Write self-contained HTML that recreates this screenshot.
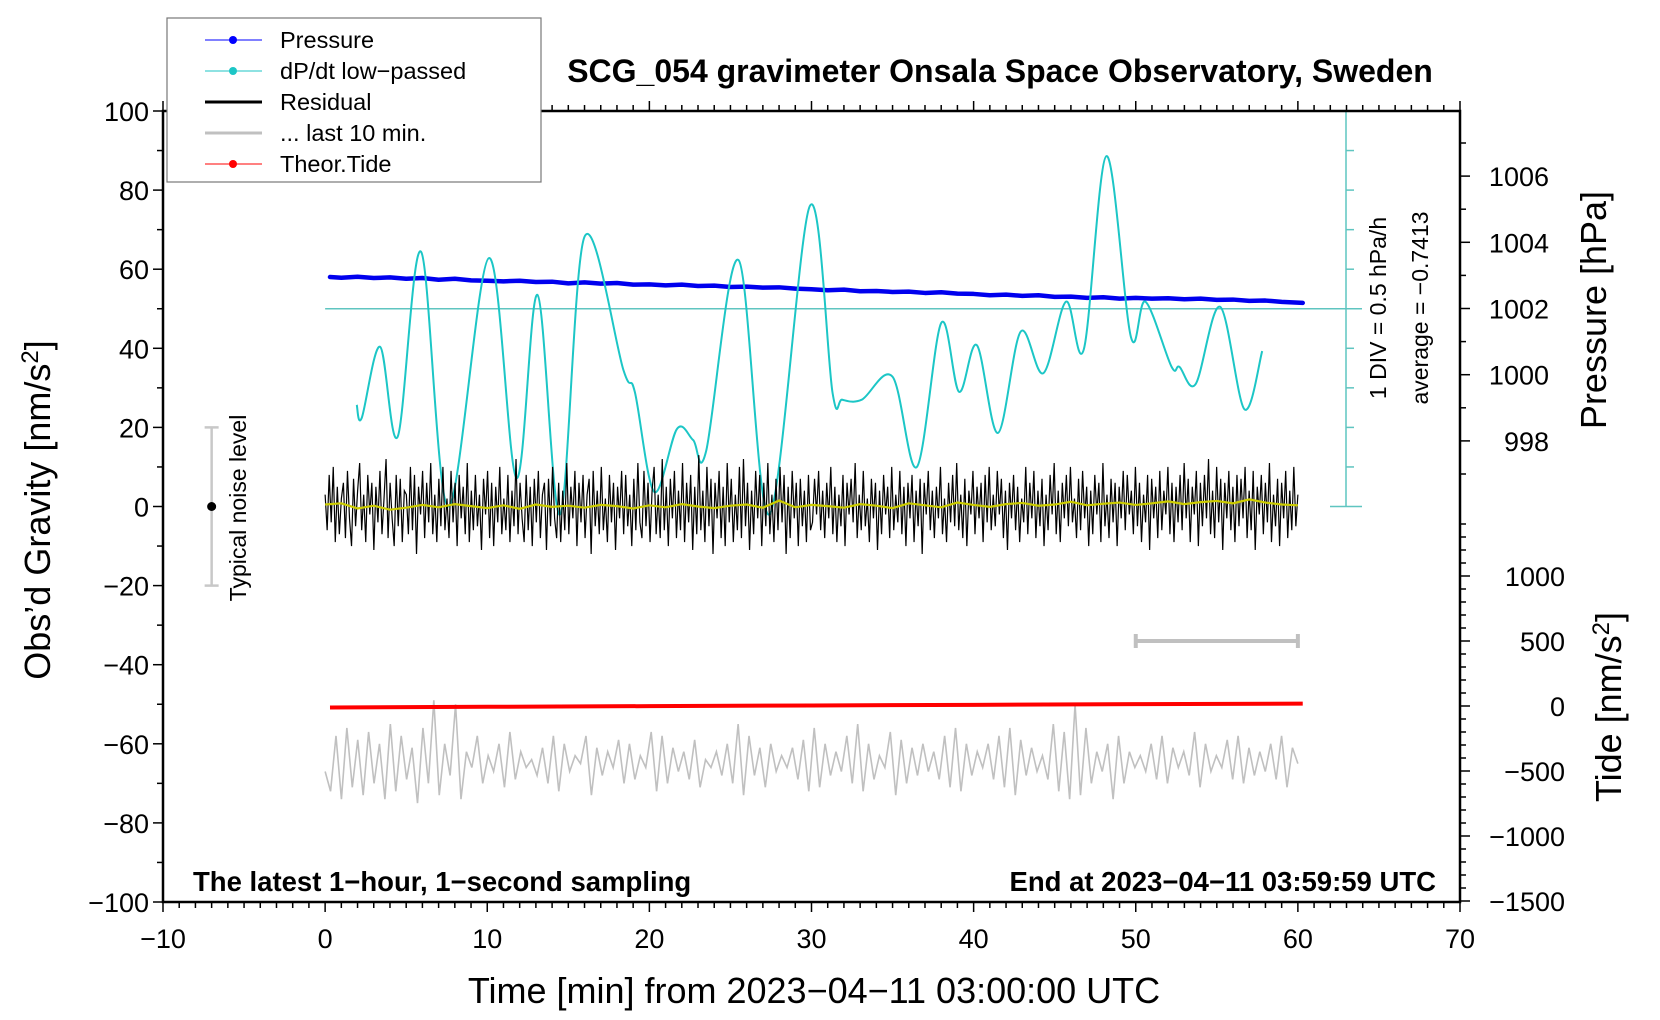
<!DOCTYPE html>
<html><head><meta charset="utf-8"><style>
body{margin:0;background:#fff}
svg{display:block;font-family:"Liberation Sans",Arial,sans-serif}
</style></head><body>
<svg id="chart" width="1660" height="1020" viewBox="0 0 1660 1020">
<g id="layer"></g>
</svg>
<script>
// ---- data ----
const xTicks = [-10,0,10,20,30,40,50,60,70];
const yTicks = [100,80,60,40,20,0,-20,-40,-60,-80,-100];
const pressureTicks = [1006,1004,1002,1000,998];
const tideTicks = [1000,500,0,-500,-1000,-1500];
const pressureTimes = [0.3,1,2,3,4,5,6,7,8,9,10,11,12,13,14,15,16,17,18,19,20,21,22,23,24,25,26,27,28,29,30,31,32,33,34,35,36,37,38,39,40,41,42,43,44,45,46,47,48,49,50,51,52,53,54,55,56,57,58,59,60.3];
const pressureValues = [1002.95,1002.93,1002.96,1002.92,1002.94,1002.90,1002.92,1002.87,1002.90,1002.85,1002.84,1002.82,1002.84,1002.80,1002.81,1002.76,1002.79,1002.75,1002.77,1002.72,1002.73,1002.70,1002.72,1002.68,1002.69,1002.65,1002.66,1002.63,1002.64,1002.60,1002.58,1002.55,1002.57,1002.52,1002.53,1002.50,1002.51,1002.47,1002.49,1002.45,1002.44,1002.40,1002.42,1002.38,1002.40,1002.35,1002.36,1002.32,1002.34,1002.30,1002.32,1002.30,1002.31,1002.28,1002.30,1002.26,1002.27,1002.23,1002.24,1002.20,1002.17];
const dpTimes = [1.95,2.26,3.39,4.48,5.92,7.6,10.1,11.8,13.1,14.5,16.0,18.4,19.1,20.3,21.7,22.7,23.5,25.5,27.4,29.9,31.3,31.9,33.1,35.0,36.5,38.0,39.1,40.2,41.5,42.9,44.3,45.7,46.8,48.2,49.7,50.6,52.2,52.7,53.7,55.2,56.7,57.8];
const dpValues = [25.7,22.4,40.4,17.7,64.4,0,62.8,7.2,53.5,-2,68.2,34.5,29,3.7,19.6,16.8,14,62.3,-2,76,28.7,27,27,32.8,10,46.4,29,40.8,18.6,44.2,33.7,51.8,39.8,88.6,42.9,51.8,35.4,35.3,31,50.5,24.6,39.3];
const residualValues = [3,-6,8,-4,10,-9,5,-7,2,6,-8,9,-3,-10,7,-5,4,11,-6,3,-9,8,-2,6,-11,5,-4,9,-7,2,
12,-8,6,-3,-10,8,-5,7,-9,4,3,-7,10,-6,8,-12,5,-2,9,-8,6,-4,11,-7,3,-9,7,-5,10,-6,
2,-8,9,-4,6,-10,8,-3,5,-7,11,-9,4,-6,8,-5,3,-11,7,-2,9,-8,6,-10,5,-4,10,-7,2,-6,
8,-9,4,-5,12,-7,6,-3,-9,8,-6,5,-10,7,-4,9,-8,3,6,-11,7,-5,10,-3,-8,6,-9,4,-6,11,
-7,5,-3,9,-10,6,-4,8,-8,3,7,-12,9,-5,4,-7,10,-6,2,-9,8,-4,6,-11,5,-3,9,-7,8,-5,
3,-10,7,-6,11,-4,-8,9,-5,6,-9,4,10,-7,3,-8,12,-6,5,-10,7,-3,9,-8,4,-6,11,-9,6,-4,
8,-11,5,-7,13,-6,4,-9,10,-5,7,-12,6,-3,9,-8,5,-10,11,-4,7,-9,3,-6,10,-8,12,-5,6,-11,
4,-7,9,-3,8,-10,6,-5,11,-7,3,-9,7,-6,10,-4,8,-12,5,-8,9,-3,6,-10,7,-5,4,-9,8,-6,
-4,7,-2,9,-6,4,-8,6,-3,10,-7,5,-9,3,-5,8,-10,6,-2,7,-4,11,-8,3,-6,9,-5,2,-9,7,
-3,6,-11,4,-7,8,-2,5,-8,10,-6,3,-4,9,-7,5,-10,6,-3,8,-9,4,-5,7,-12,6,-2,9,-6,4,
-8,5,-3,10,-7,2,-9,6,-4,8,-5,11,-6,3,-8,7,-10,4,-2,9,-7,5,-3,6,-9,8,-4,10,-6,3,
-5,9,-2,7,-8,4,-11,6,-3,8,-6,5,-9,2,-4,10,-7,6,-3,9,-8,4,-5,7,-10,3,-6,8,-2,11,
-7,4,-9,6,-3,8,-5,10,-4,2,-8,7,-6,9,-3,5,-10,4,-7,8,-2,6,-9,11,-5,3,-8,7,-4,6,
-10,5,-3,9,-6,8,-2,4,-7,10,-5,6,-9,3,-4,8,-11,7,-3,5,-8,9,-6,4,-2,10,-7,6,-9,5,
-4,8,-6,11,-3,7,-9,5,-2,9,-10,6,-5,8,-3,12,-7,4,-8,10,-4,7,-11,6,-3,9,-6,5,-9,8,
-5,7,-3,10,-8,4,-6,9,-11,5,-2,8,-7,6,-4,11,-9,3,-5,7,-10,6,-3,9,-8,4,-6,10,-5,3];
const smoothValues = [0.5,0.8,-0.5,0.2,-0.8,-0.3,0.4,-0.2,0.6,0.1,-0.4,0.3,-0.6,0.5,-0.1,0.2,-0.3,0.4,0.1,-0.5,0.3,-0.2,0.6,0.0,-0.4,0.2,0.5,-0.3,1.5,-0.2,0.4,0.1,-0.3,0.6,0.2,-0.4,0.8,0.3,-0.2,1.0,0.4,-0.1,0.6,0.9,0.2,0.5,1.2,0.3,0.7,1.0,0.4,0.8,1.3,0.6,1.1,1.4,0.8,1.8,1.0,0.5,0.3];
const lastTenValues = [-67,-72,-58,-74,-56,-71,-59,-73,-57,-70,-60,-74,-55,-72,-58,-69,-61,-75,-56,-70,-49,-73,-60,-68,-50,-74,-62,-66,-58,-70,
-63,-67,-60,-71,-57,-69,-62,-66,-64,-68,-61,-70,-58,-72,-60,-67,-63,-65,-58,-73,-61,-68,-62,-66,-59,-70,-60,-69,-63,-66,
-57,-72,-58,-70,-61,-67,-62,-69,-59,-71,-64,-66,-62,-68,-60,-70,-55,-73,-58,-68,-61,-71,-60,-67,-63,-66,-61,-69,-59,-72,
-56,-71,-60,-68,-62,-67,-58,-70,-55,-72,-60,-69,-63,-66,-57,-73,-59,-70,-61,-68,-60,-67,-62,-69,-58,-71,-56,-72,-60,-68,
-62,-66,-60,-69,-58,-71,-56,-73,-59,-68,-61,-67,-63,-69,-55,-72,-57,-74,-50,-73,-56,-70,-62,-67,-60,-74,-58,-70,-62,-66,
-63,-67,-60,-69,-58,-70,-61,-66,-62,-68,-57,-71,-60,-67,-63,-66,-59,-69,-58,-70,-61,-68,-62,-67,-60,-69,-58,-71,-61,-65];
const tideTimes = [0.3,10,20,30,40,50,60.3];
const tideValues = [-12,-6,-1,4,9,14,18];

// ---- axes ----
const X0=163, X1=1460, Y0=111, Y1=902;
const sx = m => X0 + (m+10)/80*(X1-X0);
const sy = g => Y0 + (100-g)/200*(Y1-Y0);
const sp = p => 308.5 - (p-1002)*33.1;
const st = t => 706 - t*0.13;

const NS="http://www.w3.org/2000/svg";
const layer=document.getElementById('layer');
function mk(tag, attrs, parent){const e=document.createElementNS(NS,tag);for(const k in attrs)e.setAttribute(k,attrs[k]);(parent||layer).appendChild(e);return e;}
function txt(s, attrs){const e=mk('text',attrs);e.textContent=s;return e;}

let e;
e=mk('line',{x1:sx(0),y1:sy(50),x2:1362,y2:sy(50),stroke:'#5fc5c0','stroke-width':1.5});


e=mk('g',{stroke:'#5fc5c0','stroke-width':1.5});


mk('line',{x1:1346,y1:Y0,x2:1346,y2:sy(0)},e);
mk('line',{x1:1330,y1:Y0,x2:1362,y2:Y0},e);
mk('line',{x1:1330,y1:sy(0),x2:1362,y2:sy(0)},e);
for(let g=10;g<100;g+=10){mk('line',{x1:1346,y1:sy(g),x2:1354,y2:sy(g)},e);}

// pressure
let pp=pressureTimes.map((t,i)=>sx(t)+','+sp(pressureValues[i])).join(' ');
e=mk('polyline',{points:pp,fill:'none',stroke:'#0000ee','stroke-width':4.5,'stroke-linejoin':'round','stroke-linecap':'round'});



// dP/dt curve
function cr(pts){let d='M'+pts[0][0]+','+pts[0][1];for(let i=0;i<pts.length-1;i++){const p0=pts[i-1]||pts[i],p1=pts[i],p2=pts[i+1],p3=pts[i+2]||p2;
d+=' C'+(p1[0]+(p2[0]-p0[0])/6)+','+(p1[1]+(p2[1]-p0[1])/6)+' '+(p2[0]-(p3[0]-p1[0])/6)+','+(p2[1]-(p3[1]-p1[1])/6)+' '+p2[0]+','+p2[1];}return d;}
e=mk('path',{d:cr(dpTimes.map((t,i)=>[sx(t),sy(dpValues[i])])),fill:'none',stroke:'#1cc6c6','stroke-width':2});



// residual
let rp=residualValues.map((v,i)=>sx(i*60/(residualValues.length-1))+','+sy(v)).join(' ');
e=mk('polyline',{points:rp,fill:'none',stroke:'#000','stroke-width':1.2});


let yp=smoothValues.map((v,i)=>sx(i*60/(smoothValues.length-1))+','+sy(v)).join(' ');
e=mk('polyline',{points:yp,fill:'none',stroke:'#cccc00','stroke-width':2.2});



// last 10 min
let gp=lastTenValues.map((v,i)=>sx(i*60/(lastTenValues.length-1))+','+sy(v)).join(' ');
e=mk('polyline',{points:gp,fill:'none',stroke:'#c0c0c0','stroke-width':1.6});



// tide
let tp=tideTimes.map((t,i)=>sx(t)+','+st(tideValues[i])).join(' ');
e=mk('polyline',{points:tp,fill:'none',stroke:'#ff0000','stroke-width':4});



// grey 10-min bar
e=mk('g',{stroke:'#c0c0c0','stroke-width':4});


mk('line',{x1:sx(50),y1:641,x2:sx(60),y2:641},e);
mk('line',{x1:sx(50),y1:634,x2:sx(50),y2:648},e);
mk('line',{x1:sx(60),y1:634,x2:sx(60),y2:648},e);

// noise level
e=mk('g',{stroke:'#c8c8c8','stroke-width':2.5});


mk('line',{x1:sx(-7),y1:sy(20),x2:sx(-7),y2:sy(-20)},e);
mk('line',{x1:sx(-7)-7,y1:sy(20),x2:sx(-7)+7,y2:sy(20)},e);
mk('line',{x1:sx(-7)-7,y1:sy(-20),x2:sx(-7)+7,y2:sy(-20)},e);
mk('circle',{cx:sx(-7),cy:sy(0),r:4.5,fill:'#000',stroke:'none'},e);
e=txt('Typical noise level',{x:0,y:0,'font-size':23,'text-anchor':'middle',transform:'translate(246,508) rotate(-90)'});



// frame
e=mk('rect',{x:X0,y:Y0,width:X1-X0,height:Y1-Y0,fill:'none',stroke:'#000','stroke-width':2.5});


const ax=mk('g',{stroke:'#000','stroke-width':1.5});
for(let m=-10;m<=70;m++){const L=(m%10===0)?10:6;mk('line',{x1:sx(m),y1:Y1,x2:sx(m),y2:Y1+L},ax);mk('line',{x1:sx(m),y1:Y0,x2:sx(m),y2:Y0-L},ax);}
for(let g=-100;g<=100;g+=10){const L=(g%20===0)?10:6;mk('line',{x1:X0,y1:sy(g),x2:X0-L,y2:sy(g)},ax);}
for(let p=997;p<=1007;p++){const L=(p%2===0)?10:6;mk('line',{x1:X1,y1:sp(p),x2:X1+L,y2:sp(p)},ax);}
for(let t=-1500;t<=1500;t+=100){if(st(t)<520)continue;const L=(t%500===0)?10:6;mk('line',{x1:X1,y1:st(t),x2:X1+L,y2:st(t)},ax);}
xTicks.forEach(m=>{e=txt(String(m).replace('-','\u2212'),{x:sx(m),y:948,'font-size':27,'text-anchor':'middle'});

});
yTicks.forEach(g=>{e=txt(String(g).replace('-','\u2212'),{x:X0-14,y:sy(g)+10,'font-size':27,'text-anchor':'end'});

});
pressureTicks.forEach(p=>{e=txt(String(p),{x:1549,y:sp(p)+10,'font-size':27,'text-anchor':'end'});

});
tideTicks.forEach(t=>{e=txt(String(t).replace('-','\u2212'),{x:1565,y:st(t)+10,'font-size':27,'text-anchor':'end'});

});

// axis titles
e=txt('Time [min] from 2023\u221204\u221211 03:00:00 UTC',{x:814,y:1003,'font-size':36,'text-anchor':'middle'});


e=mk('text',{x:0,y:0,'font-size':36,'text-anchor':'middle',transform:'translate(50,510) rotate(-90)'});
e.innerHTML="Obs\u2019d Gravity [nm/s<tspan dy='-12' font-size='24'>2</tspan><tspan dy='12'>]</tspan>";


e=txt('Pressure [hPa]',{x:0,y:0,'font-size':36,'text-anchor':'middle',transform:'translate(1606,310) rotate(-90)'});


e=mk('text',{x:0,y:0,'font-size':36,'text-anchor':'middle',transform:'translate(1621,707) rotate(-90)'});
e.innerHTML="Tide [nm/s<tspan dy='-12' font-size='24'>2</tspan><tspan dy='12'>]</tspan>";


e=txt('1 DIV = 0.5 hPa/h',{x:0,y:0,'font-size':23,'text-anchor':'middle',transform:'translate(1386,308) rotate(-90)'});


e=txt('average = \u22120.7413',{x:0,y:0,'font-size':23,'text-anchor':'middle',transform:'translate(1428,308) rotate(-90)'});



// titles
e=txt('SCG_054 gravimeter Onsala Space Observatory, Sweden',{x:1000,y:82,'font-size':32,'font-weight':'bold','text-anchor':'middle'});


e=txt('The latest 1\u2212hour, 1\u2212second sampling',{x:193,y:891,'font-size':27.5,'font-weight':'bold'});


e=txt('End at 2023\u221204\u221211 03:59:59 UTC',{x:1436,y:891,'font-size':27.5,'font-weight':'bold','text-anchor':'end'});



// legend
const lg=mk('g',{});


mk('rect',{x:167,y:18,width:374,height:164,fill:'#fff',stroke:'#777','stroke-width':1.2},lg);
const legNames=['Pressure','dP/dt low\u2212passed','Residual','... last 10 min.','Theor.Tide'];
const legCols=['#0000ff','#1cc6c6','#000','#c0c0c0','#ff0000'];
legNames.forEach((n,i)=>{const y=40+i*31;
 const g=mk('g',{},lg);
 
 
 const thick=(i===2||i===3);
 mk('line',{x1:205,y1:y,x2:262,y2:y,stroke:legCols[i],'stroke-width':thick?3:1},g);
 if(!thick)mk('circle',{cx:233,cy:y,r:4,fill:legCols[i]},g);
 const t=mk('text',{x:280,y:y+8,'font-size':23.5},g);t.textContent=n;});
</script>
</body></html>
